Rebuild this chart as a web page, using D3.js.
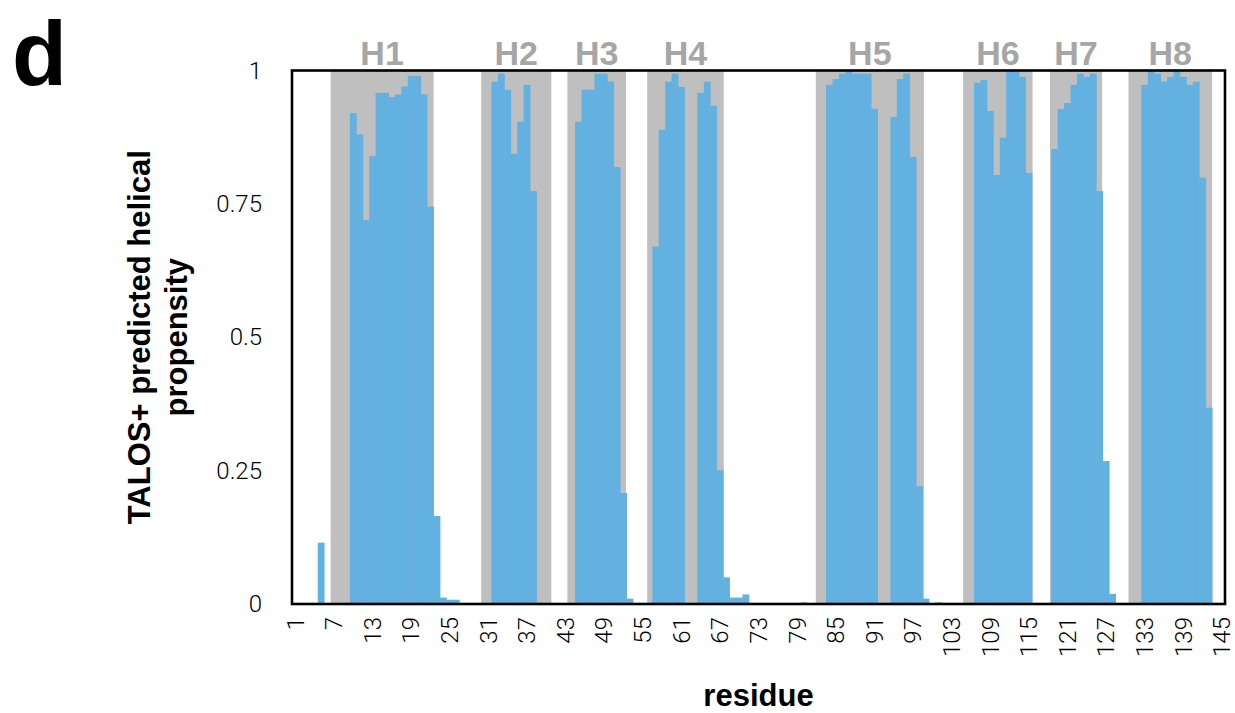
<!DOCTYPE html>
<html>
<head>
<meta charset="utf-8">
<script src="https://cdn.jsdelivr.net/npm/d3@7"></script>
<style>
  html, body { margin: 0; padding: 0; background: #fff; }
  svg { display: block; }
</style>
</head>
<body>
<svg id="chart" width="1235" height="713"></svg>
<script>
// ---------------- data ----------------
const residues = d3.range(1, 146);
const propensity = [
  0, 0, 0, 0, 0.115, 0, 0, 0, 0, 0.92,            // 1-10
  0.88, 0.72, 0.84, 0.958, 0.958, 0.95, 0.955, 0.97, 0.99, 0.99, // 11-20
  0.955, 0.745, 0.165, 0.012, 0.008, 0.008, 0, 0, 0, 0,          // 21-30
  0, 0.979, 0.994, 0.964, 0.844, 0.904, 0.973, 0.774, 0, 0,      // 31-40
  0, 0, 0, 0, 0.904, 0.964, 0.964, 0.994, 0.994, 0.979,          // 41-50
  0.819, 0.208, 0.01, 0, 0, 0, 0.67, 0.889, 0.979, 0.994,        // 51-60
  0.969, 0, 0, 0.958, 0.979, 0.934, 0.251, 0.05, 0.012, 0.012,   // 61-70
  0.018, 0, 0, 0, 0, 0, 0, 0, 0, 0.003,                          // 71-80
  0, 0, 0, 0.973, 0.984, 0.994, 0.999, 0.994, 0.994, 0.994,      // 81-90
  0.928, 0, 0, 0.913, 0.984, 0.994, 0.838, 0.221, 0.01, 0,       // 91-100
  0.003, 0, 0, 0, 0, 0, 0.977, 0.982, 0.924, 0.804,              // 101-110
  0.874, 0.999, 0.999, 0.988, 0.808, 0, 0, 0, 0.853, 0.928,      // 111-120
  0.939, 0.973, 0.994, 0.988, 0.994, 0.774, 0.268, 0.019, 0, 0,  // 121-130
  0, 0, 0.973, 0.999, 0.994, 0.979, 0.988, 0.999, 0.988, 0.973,  // 131-140
  0.979, 0.799, 0.368, 0, 0                                       // 141-145
];
const helixLabels = ["H1", "H2", "H3", "H4", "H5", "H6", "H7", "H8"];
const helixStart  = [6.5, 29.9, 43.3, 55.7, 81.9, 104.8, 118.3, 130.5];
const helixEnd    = [22.5, 40.8, 52.4, 67.6, 98.7, 115.6, 126.4, 143.5];
const xTickLabels = d3.range(1, 146, 6);
const yTickValues = [0, 0.25, 0.5, 0.75, 1];
const yTickLabels = ["0", "0.25", "0.5", "0.75", "1"];

// ---------------- layout ----------------
const svg = d3.select("#chart");
const L = 292, R = 1225, T = 70.5, B = 604;
const lightFont = "Roboto, 'Open Sans', 'Liberation Sans', sans-serif";
const boldFont = "'Liberation Sans', Arial, Helvetica, sans-serif";

const x = d3.scaleBand().domain(residues).range([L, R]).padding(0);
const xc = d3.scaleLinear().domain([0.5, 145.5]).range([L, R]);
const y = d3.scaleLinear().domain([0, 1]).range([B, T]);

// helix shaded regions
svg.append("g").selectAll("rect").data(helixLabels).join("rect")
  .attr("x", (d, i) => xc(helixStart[i]))
  .attr("width", (d, i) => xc(helixEnd[i]) - xc(helixStart[i]))
  .attr("y", T).attr("height", B - T)
  .attr("fill", "#bfbfbf");

// bars
svg.append("g").selectAll("rect").data(residues).join("rect")
  .attr("x", d => x(d))
  .attr("width", x.bandwidth() + 0.4)
  .attr("y", (d, i) => y(propensity[i]))
  .attr("height", (d, i) => B - y(propensity[i]))
  .attr("fill", "#63b1e0");

// helix labels
svg.append("g").selectAll("text").data(helixLabels).join("text")
  .attr("x", (d, i) => (xc(helixStart[i]) + xc(helixEnd[i])) / 2)
  .attr("y", 65)
  .attr("text-anchor", "middle")
  .attr("font-family", boldFont)
  .attr("font-weight", "bold")
  .attr("font-size", 34)
  .attr("fill", "#a6a6a6")
  .text(d => d);

// frame
svg.append("rect")
  .attr("x", L).attr("y", T).attr("width", R - L).attr("height", B - T)
  .attr("fill", "none").attr("stroke", "#000").attr("stroke-width", 2.6);

// y axis labels
const yAxis = d3.axisLeft(y).tickValues(yTickValues)
  .tickFormat((d, i) => yTickLabels[i]).tickSize(0).tickPadding(30);
const gy = svg.append("g").attr("transform", `translate(${L},0)`).call(yAxis);
gy.select(".domain").remove();
gy.selectAll("text")
  .attr("font-family", lightFont).attr("font-weight", 300)
  .attr("font-size", 24).attr("fill", "#000");

// x axis labels
const xAxis = d3.axisBottom(x).tickValues(xTickLabels).tickSize(0);
const gx = svg.append("g").attr("transform", `translate(0,${B})`).call(xAxis);
gx.select(".domain").remove();
gx.selectAll("text")
  .attr("font-family", lightFont).attr("font-weight", 300)
  .attr("font-size", 24).attr("fill", "#000")
  .attr("text-anchor", "end")
  .attr("transform", "translate(0,13) rotate(-90)")
  .attr("x", 0).attr("y", 0).attr("dy", "0.35em");

// axis titles
svg.append("text")
  .attr("x", (L + R) / 2).attr("y", 706)
  .attr("text-anchor", "middle")
  .attr("font-family", boldFont).attr("font-weight", "bold").attr("font-size", 31)
  .text("residue");

const yTitle = svg.append("text")
  .attr("transform", `translate(0,${(T + B) / 2}) rotate(-90)`)
  .attr("text-anchor", "middle")
  .attr("font-family", boldFont).attr("font-weight", "bold").attr("font-size", 31);
yTitle.append("tspan").attr("x", 0).attr("y", 150).text("TALOS+ predicted helical");
yTitle.append("tspan").attr("x", 0).attr("y", 187).text("propensity");

// panel letter
svg.append("text")
  .attr("x", 12).attr("y", 85)
  .attr("font-family", boldFont).attr("font-weight", "bold").attr("font-size", 90)
  .text("d");
</script>
</body>
</html>
